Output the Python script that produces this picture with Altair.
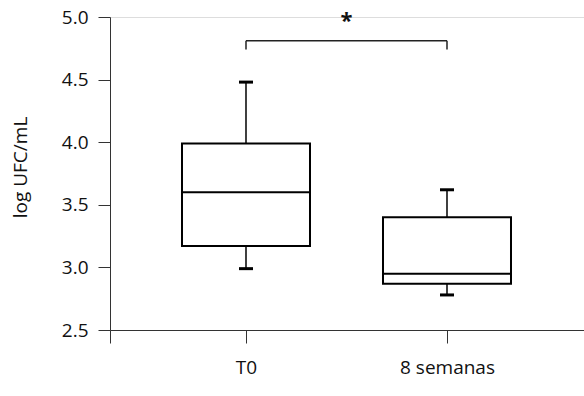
import altair as alt
import pandas as pd

# ---- data ----
categories = ["T0", "8 semanas"]
positions = [0, 1]
mins = [2.99, 2.78]
q1 = [3.17, 2.87]
medians = [3.60, 2.95]
q3 = [3.99, 3.40]
maxs = [4.48, 3.62]

bracket_y = [4.81]
bracket_tip = [4.74]
star_y = [4.97]
star_label = ["*"]

x_domain = [-0.6766, 1.6816]
y_domain = [2.5, 5.0]

df = pd.DataFrame({
    "cat": categories, "pos": positions, "min": mins, "q1": q1,
    "med": medians, "q3": q3, "max": maxs,
})
bracket = pd.DataFrame({"x1": [positions[0]], "x2": [positions[1]],
                        "y": bracket_y, "tip": bracket_tip})
ends = pd.DataFrame({"pos": positions, "y": bracket_y * 2, "tip": bracket_tip * 2})
star = pd.DataFrame({"pos": [(positions[0] + positions[1]) / 2], "y": star_y, "t": star_label})

FONT = "Open Sans"
FS = 19

label_expr = " : ".join(
    [f"datum.value == {p} ? '{c}'" for p, c in zip(positions, categories)]
) + " : ''"

xscale = alt.Scale(domain=x_domain, nice=False, zero=False, padding=0)
yscale = alt.Scale(domain=y_domain, nice=False, zero=False, padding=0)

xaxis = alt.Axis(values=[x_domain[0]] + positions, labelExpr=label_expr, title=None,
                 grid=False, tickSize=13, labelPadding=15, labelFontSize=FS,
                 labelFont=FONT, labelColor="#111", domainColor="#333",
                 tickColor="#333", labelAngle=0, labelFlush=False, labelOverlap=False)
yaxis = alt.Axis(values=[2.5, 3.0, 3.5, 4.0, 4.5, 5.0], format=".1f", title="log UFC/mL",
                 grid=False, tickSize=12, labelPadding=10, labelFontSize=FS,
                 labelFont=FONT, labelColor="#111", titleFont=FONT, titleFontSize=FS,
                 titleFontWeight="normal", titleColor="#111", titleX=-90, titleY=150,
                 titleBaseline="middle", titleAngle=-90, domainColor="#333", tickColor="#333",
                 labelFlush=False, labelOverlap=False)

base = alt.Chart(df)
X = alt.X("pos:Q", scale=xscale, axis=xaxis)

whisk_lo = base.mark_rule(color="black", strokeWidth=1.5).encode(
    x=X, y=alt.Y("min:Q", scale=yscale, axis=yaxis), y2="q1:Q")
whisk_hi = base.mark_rule(color="black", strokeWidth=1.5).encode(
    x="pos:Q", y="q3:Q", y2="max:Q")
box = base.mark_bar(size=128, fill="white", stroke="black", strokeWidth=2).encode(
    x="pos:Q", y="q1:Q", y2="q3:Q")
median = base.mark_tick(orient="horizontal", size=128, thickness=2, color="black",
                        opacity=1).encode(x="pos:Q", y="med:Q")
cap_lo = base.mark_tick(orient="horizontal", size=14, thickness=3, color="black",
                        opacity=1).encode(x="pos:Q", y="min:Q")
cap_hi = base.mark_tick(orient="horizontal", size=14, thickness=3, color="black",
                        opacity=1).encode(x="pos:Q", y="max:Q")

br_h = alt.Chart(bracket).mark_rule(color="#222", strokeWidth=1.5).encode(
    x="x1:Q", x2="x2:Q", y="y:Q")
br_v = alt.Chart(ends).mark_rule(color="#222", strokeWidth=1.5).encode(
    x="pos:Q", y="y:Q", y2="tip:Q")
star_t = alt.Chart(star).mark_text(fontSize=22, font=FONT, fontWeight="bold",
                                   baseline="middle", color="#111").encode(
    x="pos:Q", y="y:Q", text="t:N")

chart = alt.layer(whisk_lo, whisk_hi, box, median, cap_lo, cap_hi, br_h, br_v, star_t).properties(
    width=474, height=313,
    autosize=alt.AutoSizeParams(type="none"),
    padding={"left": 110, "top": 17, "right": 0, "bottom": 66},
).configure_view(stroke=None).configure(background="white")

chart.save("out.html", embed_options={"renderer": "svg", "actions": False})
